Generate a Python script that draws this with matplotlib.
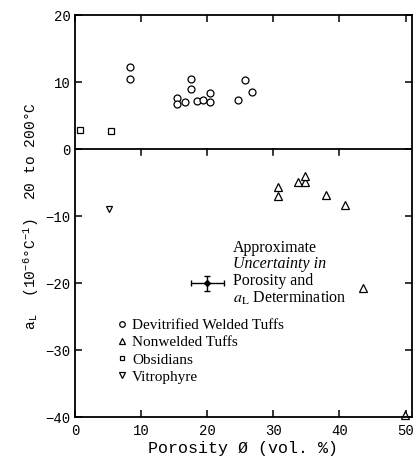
import matplotlib
matplotlib.use("Agg")
import matplotlib.pyplot as plt
from matplotlib.lines import Line2D

plt.rcParams['mathtext.fontset'] = 'stix'

# Devitrified welded tuffs
tuff_w_x = [8.3, 8.3, 17.6, 17.6, 15.4, 15.4, 16.6, 18.5, 19.4, 20.5, 20.5, 24.6, 25.7, 26.8]
tuff_w_y = [12.2, 10.4, 10.4, 9.0, 7.6, 6.7, 7.0, 7.2, 7.3, 8.4, 7.1, 7.4, 10.3, 8.5]
# Nonwelded tuffs
tuff_nw_x = [30.7, 30.7, 33.7, 34.8, 34.8, 37.9, 40.8, 43.5, 49.9]
tuff_nw_y = [-5.6, -7.0, -4.95, -4.95, -4.0, -6.8, -8.3, -20.7, -39.6]
# Obsidians
obs_x = [0.8, 5.4]
obs_y = [2.9, 2.7]
# Vitrophyre
vit_x = [5.1]
vit_y = [-9.0]
# uncertainty marker
unc_x, unc_y = 20.0, -20.0
unc_xerr, unc_yerr = 2.5, 1.1

xticks = [0, 10, 20, 30, 40, 50]
yticks = [20, 10, 0, -10, -20, -30, -40]

fig = plt.figure(figsize=(4.18, 4.57), dpi=100)
ax = fig.add_axes([0.179, 0.087, 0.807, 0.880])

mk = dict(linestyle='none', mfc='white', mec='black', mew=0.9, clip_on=False)
ax.plot(tuff_w_x, tuff_w_y, 'o', ms=5, **mk)
ax.plot(tuff_nw_x, tuff_nw_y, '^', ms=5.5, **mk)
ax.plot(obs_x, obs_y, 's', ms=4.5, **mk)
ax.plot(vit_x, vit_y, 'v', ms=4.5, **mk)

ax.errorbar(unc_x, unc_y, xerr=unc_xerr, yerr=unc_yerr, fmt='D', ms=3,
            color='black', ecolor='black', elinewidth=1, capsize=2, capthick=1)

# zero line with downward ticks
ax.axhline(0, color='black', lw=1.3)
for xt in xticks[1:-1]:
    ax.plot([xt, xt], [0, -0.9], color='black', lw=1.1)

ax.set_xlim(0, 51)
ax.set_ylim(-40, 20)
ax.set_xticks(xticks)
ax.set_yticks(yticks)
ax.tick_params(direction='in', top=True, right=True, length=5, width=1.1,
               labelsize=10, pad=3)
ax.tick_params(axis='x', pad=5)
for lab in ax.get_xticklabels() + ax.get_yticklabels():
    lab.set_family('Liberation Mono')
for s in ax.spines.values():
    s.set_linewidth(1.3)

ax.set_xlabel('Porosity Ø (vol. %)', family='Liberation Mono', fontsize=12, labelpad=2)
ax.set_ylabel(r'a$_\mathregular{L}$  (10$^\mathregular{-6}$°C$^\mathregular{-1}$)  20 to 200°C',
              family='Liberation Mono', fontsize=10.5, labelpad=3)

serif = 'Liberation Serif'
tx = 23.9
ax.text(tx, -14.8, 'Approximate', family=serif, fontsize=11.5, va='center')
ax.text(tx, -17.1, 'Uncertainty in', family=serif, fontsize=11.5, style='italic', va='center')
ax.text(tx, -19.6, 'Porosity and', family=serif, fontsize=11.5, va='center')
ax.text(tx, -22.3, r'$a_\mathrm{L}$ Determination', family=serif, fontsize=11.5, va='center')

handles = [
    Line2D([], [], marker='o', ms=4, **mk),
    Line2D([], [], marker='^', ms=4, **mk),
    Line2D([], [], marker='s', ms=3.5, **mk),
    Line2D([], [], marker='v', ms=4, **mk),
]
labels = ['Devitrified Welded Tuffs', 'Nonwelded Tuffs', 'Obsidians', 'Vitrophyre']
ax.legend(handles, labels, loc='upper left', bbox_to_anchor=(0.125, 0.245),
          frameon=False, prop={'family': serif, 'size': 11}, handlelength=0.6,
          handletextpad=0.4, labelspacing=0.22, borderpad=0, borderaxespad=0)

fig.savefig('out.png', dpi=100)
